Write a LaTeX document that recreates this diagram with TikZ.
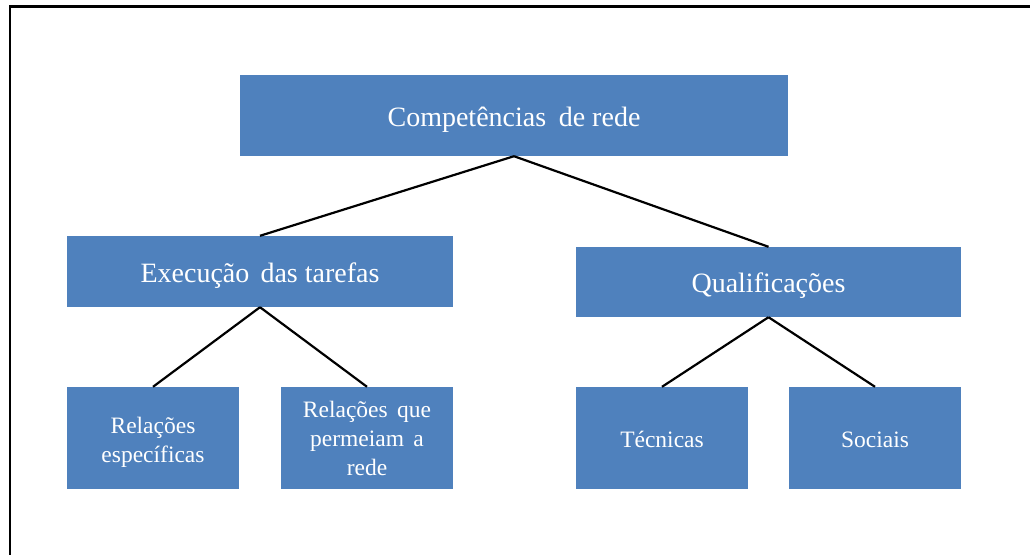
\documentclass[tikz,border=0pt]{standalone}
\usepackage{fontspec}
\setmainfont{Liberation Serif}
\definecolor{boxblue}{RGB}{79,129,189}
\tikzset{
  box/.style={rectangle, fill=boxblue, inner sep=0pt, text=white, align=center},
  bigtext/.style={font=\fontsize{28}{34}\selectfont},
  smalltext/.style={font=\fontsize{23.5}{29}\selectfont},
  conn/.style={draw=black, line width=2.2pt}
}
\newcommand{\lowerit}[2]{\raisebox{-#1}[\height][\depth]{#2}}
\begin{document}
\begin{tikzpicture}[x=1pt,y=-1pt]
\useasboundingbox (0,0) rectangle (1030,554);
\clip (0,0) rectangle (1030,554);
\draw[line width=2.2pt] (10,570) -- (10,6.5) -- (1045,6.5);
\node[box, bigtext, minimum width=548pt, minimum height=81pt] (top) at (514,115.5) {\lowerit{4pt}{Competências\hspace{0.45em}de rede}};
\node[box, bigtext, minimum width=386pt, minimum height=71pt] (exec) at (260,271.5) {\lowerit{4pt}{Execução\hspace{0.4em}das tarefas}};
\node[box, bigtext, minimum width=385pt, minimum height=70pt] (qual) at (768.5,282) {\lowerit{4pt}{Qualificações}};
\node[box, smalltext, minimum width=172pt, minimum height=102pt] (rel1) at (153,438) {\lowerit{4pt}{\begin{tabular}{@{}c@{}}Relações\\específicas\end{tabular}}};
\node[box, smalltext, minimum width=172pt, minimum height=102pt] (rel2) at (367,438) {\lowerit{3pt}{\begin{tabular}{@{}c@{}}Relações\hspace{0.4em}que\\permeiam\hspace{0.4em}a\\rede\end{tabular}}};
\node[box, smalltext, minimum width=172pt, minimum height=102pt] (tec) at (662,438) {\lowerit{1.5pt}{Técnicas}};
\node[box, smalltext, minimum width=172pt, minimum height=102pt] (soc) at (875,438) {\lowerit{1.5pt}{Sociais}};
\draw[conn] (top.south) -- (exec.north);
\draw[conn] (top.south) -- (qual.north);
\draw[conn] (exec.south) -- (rel1.north);
\draw[conn] (exec.south) -- (rel2.north);
\draw[conn] (qual.south) -- (tec.north);
\draw[conn] (qual.south) -- (soc.north);
\end{tikzpicture}
\end{document}
